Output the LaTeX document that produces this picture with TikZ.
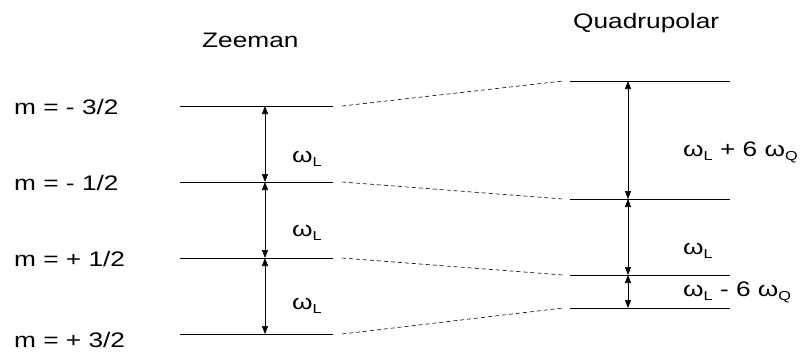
\documentclass[tikz,border=0pt]{standalone}
\usepackage{fontspec}
\usepackage{graphicx}
\setmainfont{Liberation Sans}
\usetikzlibrary{arrows.meta}
\newcommand\lsub[1]{\raisebox{-4pt}{\fontsize{13}{13}\selectfont #1}}
\newcommand\wL{ω\lsub{L}}
\newcommand\wQ{ω\lsub{Q}}
\newcommand\wide[1]{\scalebox{1.25}[1]{#1}}
\begin{document}
\begin{tikzpicture}[x=1pt,y=-1pt,
  lvl/.style={line width=0.8pt},
  gap/.style={{Triangle[length=8pt,width=6pt]}-{Triangle[length=8pt,width=6pt]}, line width=0.6pt},
  conn/.style={dash pattern=on 4pt off 3pt, line width=0.6pt},
  lab/.style={font=\fontsize{21}{21}\selectfont, anchor=base west, inner sep=0pt}]
\useasboundingbox (0,0) rectangle (802,354);
% Zeeman levels
\coordinate (z1a) at (180,106); \coordinate (z1b) at (333,106);
\coordinate (z2a) at (180,182); \coordinate (z2b) at (333,182);
\coordinate (z3a) at (180,258); \coordinate (z3b) at (333,258);
\coordinate (z4a) at (180,334); \coordinate (z4b) at (333,334);
% Quadrupolar levels
\coordinate (q1a) at (570,81);  \coordinate (q1b) at (730,81);
\coordinate (q2a) at (570,199); \coordinate (q2b) at (730,199);
\coordinate (q3a) at (570,275); \coordinate (q3b) at (730,275);
\coordinate (q4a) at (570,308); \coordinate (q4b) at (730,308);
\foreach \i in {1,2,3,4}{
  \draw[lvl] (z\i a) -- (z\i b);
  \draw[lvl] (q\i a) -- (q\i b);
}
% dashed connectors
\coordinate (d1a) at (342,106); \coordinate (d1b) at (563,81);
\coordinate (d2a) at (342,182); \coordinate (d2b) at (563,199);
\coordinate (d3a) at (342,258); \coordinate (d3b) at (563,275);
\coordinate (d4a) at (342,334); \coordinate (d4b) at (563,308);
\foreach \i in {1,2,3,4}{\draw[conn] (d\i a) -- (d\i b);}
% arrows
\coordinate (za1) at (265,106); \coordinate (za2) at (265,182);
\coordinate (za3) at (265,258); \coordinate (za4) at (265,334);
\coordinate (qa1) at (628,81);  \coordinate (qa2) at (628,199);
\coordinate (qa3) at (628,275); \coordinate (qa4) at (628,308);
\draw[gap] (za1) -- (za2);
\draw[gap] (za2) -- (za3);
\draw[gap] (za3) -- (za4);
\draw[gap] (qa1) -- (qa2);
\draw[gap] (qa2) -- (qa3);
\draw[gap] (qa3) -- (qa4);
% labels
\node[lab] (tz) at (202,47) {\wide{Zeeman}};
\node[lab] (tq) at (573,28) {\wide{Quadrupolar}};
\node[lab] (m1) at (14,114) {\wide{m = - 3/2}};
\node[lab] (m2) at (14,190) {\wide{m = - 1/2}};
\node[lab] (m3) at (14,266) {\wide{m = + 1/2}};
\node[lab] (m4) at (14,347) {\wide{m = + 3/2}};
\node[lab] (w1) at (292,162) {\wide{\wL}};
\node[lab] (w2) at (292,236) {\wide{\wL}};
\node[lab] (w3) at (292,309) {\wide{\wL}};
\node[lab] (w4) at (683,156) {\wide{\wL{} + 6 \wQ}};
\node[lab] (w5) at (683,254) {\wide{\wL}};
\node[lab] (w6) at (683,296) {\wide{\wL{} - 6 \wQ}};
\end{tikzpicture}
\end{document}
